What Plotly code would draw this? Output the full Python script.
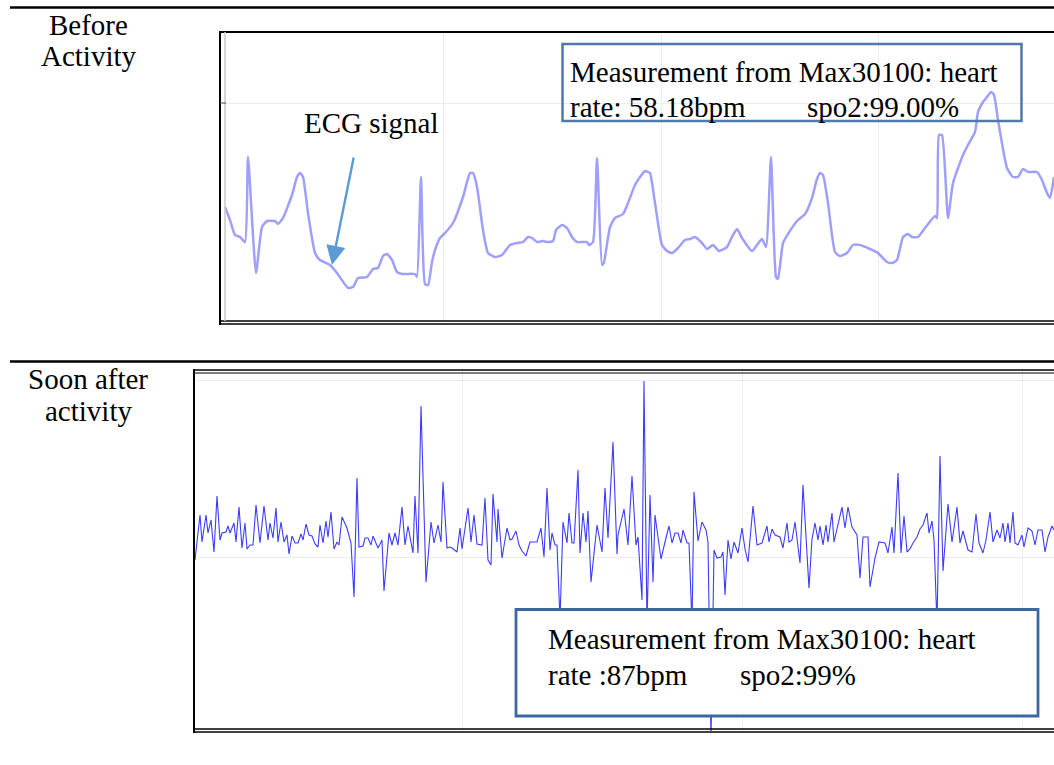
import plotly.graph_objects as go

# ---------------- data ----------------
# Before activity: time (samples) and ECG amplitude (arbitrary units)
t_before = [6, 11, 16, 21, 26, 29, 37, 43, 48, 56, 59, 64, 73, 78, 81, 84, 89, 96, 101, 111,
            118, 129, 134, 139, 148, 154, 159, 164, 168, 173, 178, 183, 196, 198, 202, 206, 209,
            213, 216, 221, 226, 234, 244, 251, 254, 258, 264, 269, 276, 283, 291, 298, 304, 309,
            313, 318, 324, 328, 334, 337, 343, 348, 353, 358, 368, 370, 374, 378, 383, 385, 391,
            396, 404, 409, 416, 421, 426, 429, 431, 436, 443, 448, 453, 459, 466, 471, 476, 483,
            488, 494, 500, 508, 513, 518, 523, 533, 538, 543, 547, 552, 557, 559, 564, 569, 578,
            586, 593, 598, 601, 604, 609, 616, 621, 628, 634, 641, 651, 659, 668, 673, 678, 684,
            689, 693, 699, 706, 716, 718, 720, 723, 729, 734, 744, 749, 756, 759, 764, 768, 772,
            775, 779, 788, 794, 799, 804, 809, 818, 823, 828, 831, 835]
ecg_before = [115, 102, 87, 85, 80, 165, 49, 95, 101, 101, 98, 104, 127, 145, 149, 145, 109, 69,
              62, 57, 49, 34, 35, 44, 45, 53, 54, 66, 68, 62, 50, 48, 48, 45, 145, 38, 37, 60, 72,
              84, 89, 99, 125, 149, 149, 135, 92, 69, 65, 67, 77, 79, 80, 85, 84, 80, 81, 80, 81,
              92, 97, 94, 85, 80, 80, 77, 80, 164, 57, 60, 95, 104, 108, 119, 137, 145, 151, 150,
              149, 119, 77, 71, 69, 74, 82, 83, 85, 79, 73, 77, 71, 75, 85, 93, 84, 71, 77, 83,
              75, 165, 45, 43, 79, 88, 101, 108, 124, 143, 149, 147, 119, 70, 66, 69, 77, 77, 73,
              69, 60, 59, 62, 85, 88, 85, 85, 94, 106, 104, 187, 187, 104, 139, 167, 177, 190,
              210, 220, 225, 230, 227, 202, 154, 145, 145, 153, 150, 150, 142, 129, 124, 145]

# Soon after activity
t_after = [2, 7, 9, 13, 15, 18, 21, 24, 27, 29, 33, 35, 37, 41, 43, 46, 49, 52, 54, 57, 60, 63,
           67, 71, 75, 77, 80, 83, 85, 88, 91, 94, 96, 99, 102, 105, 108, 110, 113, 116, 119, 122,
           125, 127, 130, 133, 135, 138, 141, 144, 146, 149, 154, 158, 161, 164, 166, 170, 172,
           175, 178, 180, 185, 189, 191, 196, 199, 202, 205, 209, 212, 215, 220, 222, 225, 228,
           233, 238, 241, 245, 248, 250, 254, 257, 259, 264, 267, 269, 275, 278, 281, 284, 289,
           292, 295, 298, 300, 304, 305, 309, 314, 317, 319, 323, 326, 329, 333, 337, 340, 344,
           348, 351, 354, 357, 359, 362, 364, 367, 370, 374, 376, 379, 381, 385, 387, 390, 393,
           395, 398, 404, 409, 412, 415, 420, 424, 425, 431, 435, 439, 443, 445, 449, 451, 454,
           457, 460, 462, 468, 472, 476, 479, 482, 485, 488, 490, 494, 496, 499, 501, 505, 509,
           513, 515, 518, 521, 524, 528, 530, 532, 535, 538, 541, 545, 549, 552, 555, 560, 564,
           569, 574, 576, 579, 582, 587, 590, 594, 596, 599, 602, 607, 610, 616, 619, 622, 625,
           627, 630, 633, 635, 639, 641, 645, 649, 652, 655, 659, 664, 667, 670, 675, 677, 682,
           686, 692, 695, 699, 701, 705, 708, 711, 714, 717, 720, 724, 727, 730, 734, 736, 739,
           741, 744, 747, 750, 755, 759, 764, 767, 770, 775, 779, 783, 786, 790, 793, 797, 800,
           804, 807, 810, 812, 815, 817, 820, 822, 825, 829, 831, 835, 839, 842, 845, 849, 852,
           855, 859, 861]
ecg_after = [-3, 42, 15, 42, 24, 37, 5, 61, 17, 24, 25, 31, 24, 34, 15, 50, 9, 34, 8, 12, 12, 52,
             14, 51, 17, 34, 19, 49, 15, 35, 15, 22, 3, 21, 14, 14, 23, 17, 33, 22, 21, 13, 10,
             32, 14, 36, 20, 45, 8, 15, 12, 40, 29, 14, -40, 79, 10, 11, 19, 19, 12, 21, 9, 17,
             -34, 24, 12, 24, 12, 50, 12, 31, 4, 61, 4, 151, -25, 35, 14, 32, 15, 75, 9, 10, 9,
             5, 29, 8, 49, 15, 42, 13, 12, 59, -3, -8, 63, 15, 48, -1, 29, 17, 18, 26, 12, 6, 1,
             15, 15, 15, 29, 0, 69, 7, 24, 12, 12, -63, 35, 14, 44, 14, 14, 87, 4, 44, 15, 46,
             -25, 32, 5, 69, 19, 115, 3, 22, 48, 12, 81, 12, 20, -43, 176, -68, 62, -25, 42, -2,
             15, 31, 14, 24, 24, 14, 27, 14, 14, -68, 65, 16, 35, 27, 15, -183, 7, -1, 0, 5, -38,
             17, -2, 15, 4, 29, 8, -5, 51, 12, 14, 31, 15, 28, 22, 20, 9, 34, 15, 17, 35, -6, 72,
             -31, 18, 34, 17, 31, 12, 32, 15, 44, 15, 32, 50, 29, 50, 30, 22, -21, 20, 20, -30,
             -1, 15, 14, 4, 30, 4, 84, 4, 41, 5, 8, 14, 20, 28, 32, 44, 24, 36, 17, -68, 101, -14,
             53, 15, 50, 14, 26, 7, 5, 43, 14, 4, 17, 45, 15, 27, 19, 34, 15, 34, 14, 45, 14, 12,
             22, 10, 29, 26, 12, 27, 27, 5, 20, 31, 27]

panel_labels = [["Before", "Activity"], ["Soon after", "activity"]]
box_top_lines = ["Measurement from Max30100: heart", "rate: 58.18bpm", "spo2:99.00%"]
box_bot_lines = ["Measurement from Max30100: heart", "rate :87bpm", "spo2:99%"]
arrow_label = "ECG signal"

# ---------------- layout helpers ----------------
W, H = 1054, 765
FS = 29
FONT = "Liberation Serif, Times New Roman, serif"


def px(x):
    return x / W


def py(y):
    return 1 - y / H


fig = go.Figure()

fig.add_trace(go.Scatter(x=t_before, y=ecg_before, mode="lines", xaxis="x", yaxis="y",
                         line=dict(color="rgba(95,95,255,0.6)", width=2.5,
                                   shape="spline", smoothing=0.5),
                         hoverinfo="skip", showlegend=False))
fig.add_trace(go.Scatter(x=t_after, y=ecg_after, mode="lines", xaxis="x2", yaxis="y2",
                         line=dict(color="#3c3cff", width=1.1),
                         hoverinfo="skip", showlegend=False))

grid = "#ececec"
fig.update_layout(
    width=W, height=H, margin=dict(l=0, r=0, t=0, b=0),
    paper_bgcolor="white", plot_bgcolor="white", showlegend=False,
    xaxis=dict(domain=[px(219), 1], range=[0, 835], tickmode="array",
               tickvals=[224, 442, 659], showticklabels=False, showgrid=True,
               gridcolor=grid, zeroline=False, ticks=""),
    yaxis=dict(domain=[py(322), py(32)], range=[0, 290], tickmode="array",
               tickvals=[219], showticklabels=False, showgrid=True,
               gridcolor=grid, zeroline=False, ticks=""),
    xaxis2=dict(domain=[px(193), 1], range=[0, 861], anchor="y2", tickmode="array",
                tickvals=[269, 549, 829], showticklabels=False, showgrid=True,
                gridcolor=grid, zeroline=False, ticks=""),
    yaxis2=dict(domain=[py(731), py(370)], range=[-174, 187], anchor="x2", tickmode="array",
                tickvals=[0, 177], showticklabels=False, showgrid=True,
                gridcolor=grid, zeroline=False, ticks=""),
)

shapes = []


def hline(x0, x1, y, w=2, c="black"):
    shapes.append(dict(type="line", xref="paper", yref="paper", x0=px(x0), x1=px(x1),
                       y0=py(y), y1=py(y), line=dict(color=c, width=w)))


def vline(x, y0, y1, w=2, c="black"):
    shapes.append(dict(type="line", xref="paper", yref="paper", x0=px(x), x1=px(x),
                       y0=py(y0), y1=py(y1), line=dict(color=c, width=w)))


# separators
hline(10, 1054, 7.5, 2.5)
hline(10, 1054, 361.5, 2.5)
# top panel frame
hline(219, 1054, 32, 2)
hline(219, 1054, 321, 1.4)
hline(219, 1054, 324, 1.4)
vline(220, 31, 325, 2)
vline(225, 32, 321, 1.5, "#c8c8c8")
hline(220, 226, 103, 1, "#555")
# bottom panel frame
hline(193, 1054, 370, 1.4)
hline(193, 1054, 373, 1.2)
hline(193, 1054, 729, 1.4)
hline(193, 1054, 732, 1.4)
vline(194, 369, 733, 2)
# measurement boxes
shapes.append(dict(type="rect", xref="paper", yref="paper", x0=px(562.5), x1=px(1021.5),
                   y0=py(121), y1=py(44), line=dict(color="#527aa8", width=2.5),
                   fillcolor="rgba(0,0,0,0)", layer="above"))
shapes.append(dict(type="rect", xref="paper", yref="paper", x0=px(516), x1=px(1038),
                   y0=py(716), y1=py(609.5), line=dict(color="#3d67a0", width=2.8),
                   fillcolor="white", layer="above"))
fig.update_layout(shapes=shapes)

annotations = []


def text(s, x, base, anchor="left"):
    annotations.append(dict(text=s, xref="paper", yref="paper", x=px(x), y=py(base - 0.34 * FS),
                            xanchor=anchor, yanchor="middle", showarrow=False,
                            font=dict(family=FONT, size=FS, color="black")))


text(panel_labels[0][0], 88, 35, "center")
text(panel_labels[0][1], 89, 66, "center")
text(panel_labels[1][0], 88, 389, "center")
text(panel_labels[1][1], 88.5, 421, "center")

text(box_top_lines[0], 568, 82)
text(box_top_lines[1], 568, 117)
text(box_top_lines[2], 805, 117)
text(box_bot_lines[0], 546, 649)
text(box_bot_lines[1], 546, 685)
text(box_bot_lines[2], 738, 685)

text(arrow_label, 302, 133)

# arrow pointing at the ECG trace
annotations.append(dict(text="", x=113, y=57, xref="x", yref="y", ax=22, ay=-109,
                        showarrow=True, arrowhead=2, arrowsize=1.6, arrowwidth=2.4,
                        arrowcolor="#5b9bd5", standoff=0))

fig.update_layout(annotations=annotations)

fig.write_html("out.html", include_plotlyjs=True, full_html=True,
               config={"displayModeBar": False},
               post_script="document.body.style.margin='0px';document.body.style.overflow='hidden';")
